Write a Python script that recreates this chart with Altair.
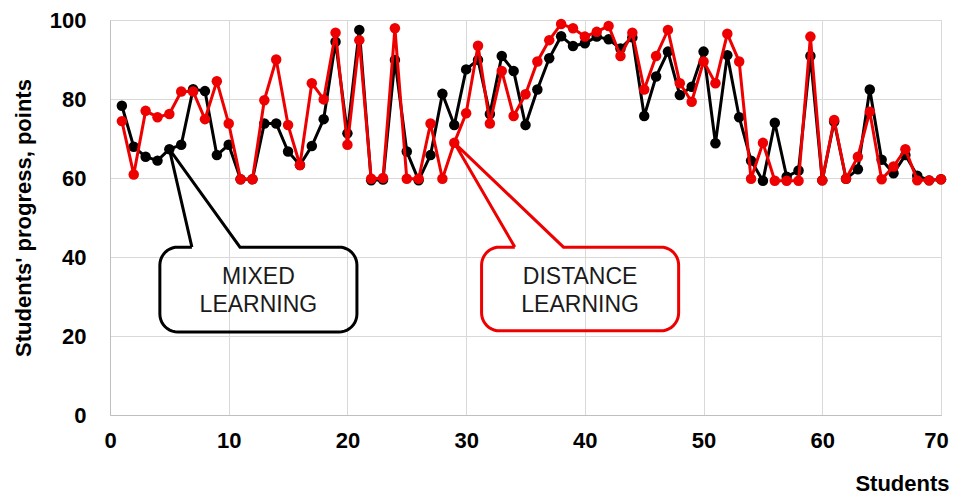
import math
import altair as alt
import pandas as pd

# ---- data ----
students = list(range(1, 71))
mixed = [78.3, 67.9, 65.4, 64.4, 67.3, 68.4, 82.5, 82.0, 65.8, 68.4,
         59.7, 59.7, 73.8, 73.8, 66.7, 63.3, 68.1, 74.9, 94.5, 71.3,
         97.5, 59.4, 59.6, 89.9, 66.7, 59.4, 65.8, 81.3, 73.4, 87.5,
         89.9, 76.2, 90.9, 87.1, 73.4, 82.4, 90.3, 95.9, 93.4, 94.1,
         95.8, 95.1, 92.8, 95.6, 75.7, 85.7, 92.0, 81.0, 83.1, 92.0,
         68.8, 91.1, 75.4, 64.4, 59.3, 74.0, 60.3, 61.9, 90.9, 59.4,
         74.3, 59.8, 62.2, 82.4, 64.6, 61.2, 65.8, 60.6, 59.4, 59.7]
distance = [74.4, 60.9, 77.0, 75.4, 76.2, 81.9, 81.9, 74.9, 84.5, 73.8,
            59.7, 59.7, 79.7, 90.0, 73.4, 63.3, 84.0, 79.9, 96.8, 68.4,
            94.9, 59.8, 60.0, 97.9, 59.8, 59.8, 73.8, 59.8, 68.9, 76.4,
            93.5, 73.8, 87.1, 75.7, 81.2, 89.5, 94.9, 99.0, 97.9, 95.8,
            97.0, 98.5, 90.9, 96.8, 82.4, 90.9, 97.5, 84.0, 79.3, 89.5,
            84.0, 96.5, 89.5, 59.8, 68.9, 59.3, 59.3, 59.3, 95.8, 59.4,
            74.7, 59.8, 65.4, 76.8, 59.7, 62.9, 67.3, 59.4, 59.4, 59.7]
x_ticks = [0, 10, 20, 30, 40, 50, 60, 70]
y_ticks = [0, 20, 40, 60, 80, 100]

# callout annotations (data units): box x0, x1, y bottom, y top, pointer base x0, x1, target student
callout_labels = ["MIXED\nLEARNING", "DISTANCE\nLEARNING"]
callout_colors = ["#000000", "#ee0000"]
callout_box = [(4.2, 20.8, 21.0, 42.5, 6.9, 10.95, 5),
               (31.3, 47.9, 21.3, 42.5, 34.1, 38.2, 29)]
callout_text_y = 34.9
callout_series = [mixed, distance]

W, H = 831, 395
XS, YS = W / 70.0, H / 100.0
FONT = "Liberation Sans"

df = pd.DataFrame({
    "student": students * 2,
    "score": mixed + distance,
    "group": ["Mixed"] * 70 + ["Distance"] * 70,
})

xsc = alt.Scale(domain=[0, 70], nice=False)
ysc = alt.Scale(domain=[0, 100], nice=False)

x_axis = alt.Axis(values=x_ticks, grid=True, ticks=False, labelFlush=False,
                  labelOffset={"condition": {"test": "datum.value == 70", "value": -5}, "value": 0},
                  labelFont=FONT, labelFontSize=22, labelFontWeight="bold",
                  labelColor="#000", labelPadding=15, domainColor="#bfbfbf",
                  gridColor="#d9d9d9", title="Students", titleFont=FONT,
                  titleFontSize=22, titleFontWeight="bold", titleColor="#000",
                  titleAnchor="end", titleAlign="right", titleBaseline="alphabetic",
                  titleX=839, titleY=75)
y_axis = alt.Axis(values=y_ticks, grid=True, ticks=False,
                  labelFont=FONT, labelFontSize=22, labelFontWeight="bold",
                  labelColor="#000", labelPadding=24, domainColor="#bfbfbf",
                  gridColor="#d9d9d9", title="Students' progress, points",
                  titleFont=FONT, titleFontSize=22, titleFontWeight="bold",
                  titleColor="#000", titleAngle=-90, titleAlign="center",
                  titleBaseline="middle", titleX=-87, titleY=H / 2)

layers = []
for grp, col in [("Mixed", "#000000"), ("Distance", "#ee0000")]:
    sub = df[df.group == grp]
    base = alt.Chart(sub).encode(
        x=alt.X("student:Q", scale=xsc, axis=x_axis),
        y=alt.Y("score:Q", scale=ysc, axis=y_axis),
    )
    layers.append(base.mark_line(color=col, strokeWidth=3))
    layers.append(base.mark_circle(color=col, size=110, opacity=1))


def callout_path(x0, x1, yb, yt, bx0, bx1, tx, ty, rpx=18, n=10):
    rx, ry = rpx / XS, rpx / YS
    pts = [(bx0, yt), (tx, ty), (bx1, yt)]
    corners = [((x1 - rx, yt - ry), 90, 0), ((x1 - rx, yb + ry), 0, -90),
               ((x0 + rx, yb + ry), -90, -180), ((x0 + rx, yt - ry), 180, 90)]
    for (cx, cy), a0, a1 in corners:
        for k in range(n + 1):
            a = math.radians(a0 + (a1 - a0) * k / n)
            pts.append((cx + rx * math.cos(a), cy + ry * math.sin(a)))
    pts.append((bx0, yt))
    return pts


for lab, col, box, ser in zip(callout_labels, callout_colors, callout_box, callout_series):
    x0, x1, yb, yt, bx0, bx1, target = box
    pts = callout_path(x0, x1, yb, yt, bx0, bx1, target, ser[target - 1])
    pdf = pd.DataFrame({"px": [p[0] for p in pts], "py": [p[1] for p in pts],
                        "i": list(range(len(pts)))})
    layers.append(alt.Chart(pdf).mark_line(color=col, strokeWidth=3, strokeJoin="miter").encode(
        x=alt.X("px:Q", scale=xsc), y=alt.Y("py:Q", scale=ysc), order="i:Q"))
    tdf = pd.DataFrame({"tx": [(x0 + x1) / 2], "ty": [callout_text_y], "t": [lab]})
    layers.append(alt.Chart(tdf).mark_text(font=FONT, fontSize=23, color="#1a1a1a",
                                           lineBreak="\n", lineHeight=28,
                                           align="center", baseline="middle").encode(
        x=alt.X("tx:Q", scale=xsc), y=alt.Y("ty:Q", scale=ysc), text="t:N"))

chart = alt.layer(*layers).properties(
    width=W, height=H,
    autosize=alt.AutoSizeParams(type="none"),
    padding={"left": 102, "top": 12, "right": 10, "bottom": 82},
).configure_view(stroke=None).configure(background="white")

chart.save("out.html", embed_options={"renderer": "svg", "actions": False})
